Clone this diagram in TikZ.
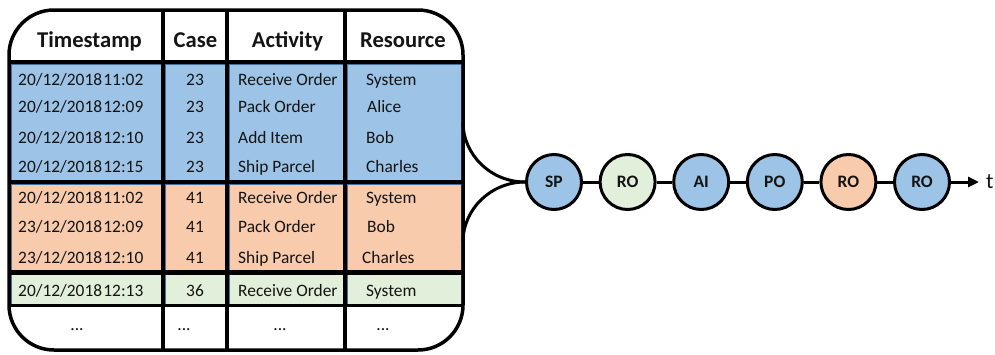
\documentclass[tikz,border=0pt]{standalone}
\usepackage{fontspec}
\setmainfont{Carlito}
\usetikzlibrary{arrows.meta}
\definecolor{cellblue}{HTML}{9DC3E6}
\definecolor{cellorange}{HTML}{F8CBAD}
\definecolor{cellgreen}{HTML}{E2EFDA}
\definecolor{celledge}{HTML}{41719C}
\definecolor{ink}{HTML}{141414}

\begin{document}
\begin{tikzpicture}[x=1pt,y=-1pt,
  head/.style={font=\fontsize{22.6}{27}\selectfont\bfseries, text=ink, anchor=base, inner sep=0pt},
  cell/.style={font=\fontsize{17.4}{21}\selectfont, text=ink, anchor=base west, inner sep=0pt},
  cellc/.style={cell, anchor=base},
  rule/.style={line width=4pt},
  event/.style={circle, draw, line width=3pt, minimum size=55pt, inner sep=0pt,
                font=\fontsize{17.5}{21}\selectfont\bfseries, text=ink},
  link/.style={line width=3pt}]
\useasboundingbox (0,0) rectangle (995,354);

% table body
\fill[white, rounded corners=45pt] (9,10) rectangle (463,350);
\fill[cellblue]   (9,62)  rectangle (463,182);
\fill[cellorange] (9,182) rectangle (463,272);
\fill[cellgreen]  (9,272) rectangle (463,306);

% thin cell borders of the coloured blocks
\foreach \xa/\xb in {9/163,163/227,227/345,345/463}
  \foreach \ya/\yb in {62/182,182/272,272/306}
    \draw[celledge, line width=0.8pt] (\xa+2,\ya+2) rectangle (\xb-2,\yb-2);

% grid lines
\foreach \x in {163,227,345}
  \draw[rule] (\x,10) -- (\x,350);
\draw[line width=3.5pt] (9,62) -- (463,62);
\draw[rule] (9,182) -- (463,182);
\draw[line width=4.5pt] (9,272.5) -- (463,272.5);
\draw[line width=3.5pt] (9,305.5) -- (463,305.5);

% outer frame
\draw[line width=3.5pt, rounded corners=45pt] (9,10) rectangle (463,350);

% header
\node[head] (hTime) at (89.5,47) {Timestamp};
\node[head] (hCase) at (195.5,47) {Case};
\node[head] (hAct)  at (287.5,47) {Activity};
\node[head] (hRes)  at (403,47) {Resource};

% rows: baseline / timestamp / case / activity / resource x / resource
\foreach \n/\y/\ts/\cs/\act/\rx/\res in {
   1/85/20\slash12\slash2018\hspace{1.2pt}11:02/23/Receive Order/366/System,
   2/112.5/20\slash12\slash2018\hspace{1.2pt}12:09/23/Pack Order/367/Alice,
   3/143/20\slash12\slash2018\hspace{1.2pt}12:10/23/Add Item/366/Bob,
   4/172.5/20\slash12\slash2018\hspace{1.2pt}12:15/23/Ship Parcel/366/Charles,
   5/203/20\slash12\slash2018\hspace{1.2pt}11:02/41/Receive Order/366/System,
   6/232/23\slash12\slash2018\hspace{1.2pt}12:09/41/Pack Order/367/Bob,
   7/263/23\slash12\slash2018\hspace{1.2pt}12:10/41/Ship Parcel/362/Charles,
   8/296.5/20\slash12\slash2018\hspace{1.2pt}12:13/36/Receive Order/366/System} {
  \node[cell]  (time\n) at (18,\y)  {\ts};
  \node[cellc] (case\n) at (195,\y) {\cs};
  \node[cell]  (act\n)  at (238,\y) {\act};
  \node[cell]  (res\n)  at (\rx,\y) {\res};
}
\node[cellc] (dTime) at (77,330)  {...};
\node[cellc] (dCase) at (184,330) {...};
\node[cellc] (dAct)  at (280,330) {...};
\node[cellc] (dRes)  at (383,330) {...};

% event sequence
\node[event, fill=cellblue]   (e1) at (554,182)   {SP};
\node[event, fill=cellgreen]  (e2) at (627.6,182) {RO};
\node[event, fill=cellblue]   (e3) at (701.2,182) {AI};
\node[event, fill=cellblue]   (e4) at (774.8,182) {PO};
\node[event, fill=cellorange] (e5) at (848.4,182) {RO};
\node[event, fill=cellblue]   (e6) at (922,182)   {RO};
\draw[link] (e1) -- (e2);
\draw[link] (e2) -- (e3);
\draw[link] (e3) -- (e4);
\draw[link] (e4) -- (e5);
\draw[link] (e5) -- (e6);
\coordinate (tip) at (979,182);
\draw[link, -{Triangle[length=11pt,width=10pt]}] (e6) -- (tip);
\node[anchor=west, inner sep=0pt, font=\fontsize{22}{26}\selectfont, text=ink] (t) at (986,182) {t};

% funnel from the table into the sequence
\coordinate (fanTop) at (463,122);
\coordinate (fanBot) at (463,242);
\draw[link] (fanTop) .. controls (463,155) and (491,182) .. (e1.west);
\draw[link] (fanBot) .. controls (463,209) and (491,182) .. (e1.west);
\end{tikzpicture}
\end{document}
